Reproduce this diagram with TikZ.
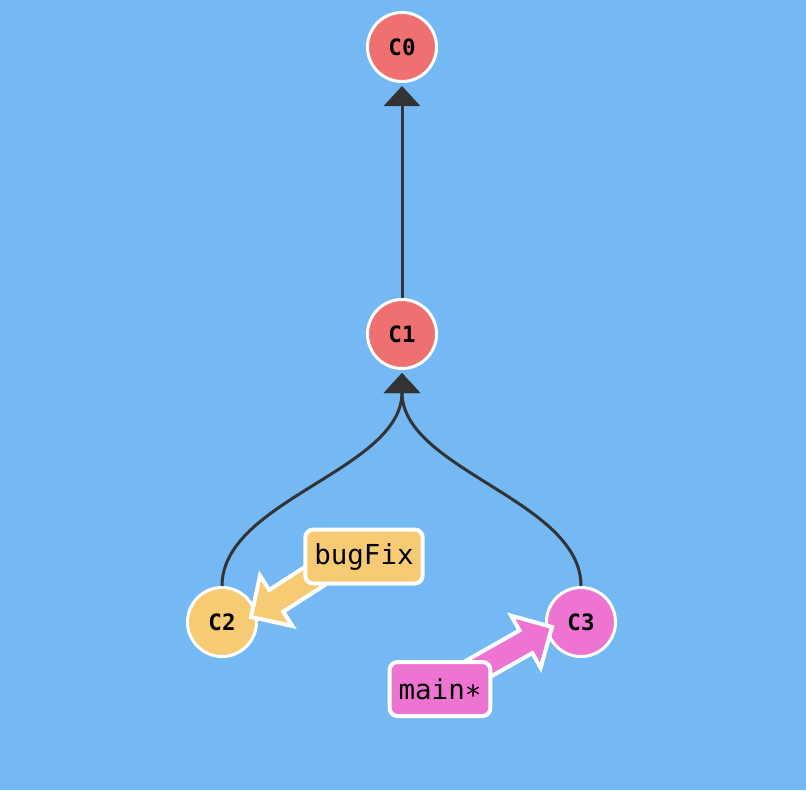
\documentclass[tikz,border=0pt]{standalone}
\usepackage{fontspec}
\setmonofont{DejaVu Sans Mono}[BoldFont={DejaVu Sans Mono Bold}]
\usetikzlibrary{arrows.meta}
\definecolor{bg}{HTML}{74B9F4}
\definecolor{cred}{HTML}{EF7070}
\definecolor{corange}{HTML}{F6CB74}
\definecolor{cpink}{HTML}{EE74D2}
\definecolor{edge}{HTML}{333333}
\tikzset{
  commit/.style={circle, draw=white, line width=3pt, minimum size=69pt, inner sep=0pt, font=\ttfamily\bfseries\fontsize{22.5}{22.5}\selectfont},
  branch/.style={rounded corners=8pt, draw=white, line width=4pt, inner xsep=9pt, minimum height=54pt, font=\ttfamily\fontsize{27.5}{27.5}\selectfont},
  parent/.style={draw=edge, line width=3pt, -{Triangle[width=36pt,length=20pt]}},
  blockarrow/.style={draw=white, line width=4pt, line join=miter},
}
\begin{document}
\begin{tikzpicture}[x=1pt,y=-1pt]
\fill[bg] (0,0) rectangle (806,790);
\useasboundingbox (0,0) rectangle (806,790);
\node[commit, fill=cred] (c0) at (402,47) {C0};
\node[commit, fill=cred] (c1) at (402,334) {C1};
\node[commit, fill=corange] (c2) at (222,622) {C2};
\node[commit, fill=cpink] (c3) at (581,622) {C3};
\draw[parent] (c1.north) -- ([yshift=-3pt]c0.south);
\draw[parent] (c2.north) .. controls (222,500) and (402,470) .. ([yshift=-3pt]c1.south);
\draw[parent] (c3.north) .. controls (581,500) and (402,470) .. ([yshift=-3pt]c1.south);
% block arrows
\coordinate (tipA) at (251,617);
\coordinate (tipB) at (552,627);
\begin{scope}[shift={(tipA)}, rotate=212.7]
\filldraw[blockarrow, fill=corange] (0,0) -- (-30,30) -- (-30,13) -- (-95,13) -- (-95,-13) -- (-30,-13) -- (-30,-30) -- cycle;
\end{scope}
\begin{scope}[shift={(tipB)}, rotate=29.5]
\filldraw[blockarrow, fill=cpink] (0,0) -- (-30,30) -- (-30,13) -- (-95,13) -- (-95,-13) -- (-30,-13) -- (-30,-30) -- cycle;
\end{scope}
\node[branch, fill=corange] (bugfix) at (364,556.5) {bugFix};
\node[branch, fill=cpink] (main) at (440,689) {main∗};
\end{tikzpicture}
\end{document}
